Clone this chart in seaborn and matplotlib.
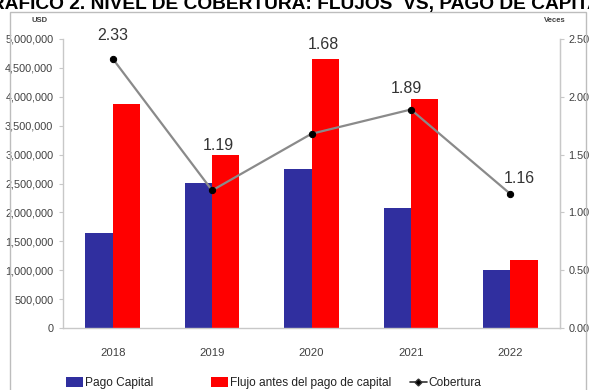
import numpy as np
import pandas as pd
import matplotlib
matplotlib.use("Agg")
import matplotlib.pyplot as plt
from matplotlib.patches import Patch, Rectangle
from matplotlib.lines import Line2D
from matplotlib.ticker import FuncFormatter
import seaborn as sns

# --- data -----------------------------------------------------------------
years = ["2018", "2019", "2020", "2021", "2022"]
pago_capital = [1640000, 2510000, 2750000, 2080000, 1000000]
flujo_antes = [3875000, 3000000, 4650000, 3960000, 1180000]
cobertura = [2.33, 1.19, 1.68, 1.89, 1.16]
series_names = ["Pago Capital", "Flujo antes del pago de capital"]
line_name = "Cobertura"
title = "GRÁFICO 2. NIVEL DE COBERTURA: FLUJOS  VS, PAGO DE CAPITAL"

# --- styling ----------------------------------------------------------------
sns.set_style("white")
FONT = ["Liberation Sans", "DejaVu Sans"]
plt.rcParams["font.family"] = FONT
BLUE = "#302F9F"
RED = "#FF0000"
GREY_LINE = "#8A8A8A"
AXIS_GREY = "#C8C8C8"
TEXT_GREY = "#404040"

W, H = 589, 390
fig = plt.figure(figsize=(W / 100, H / 100), dpi=100)

def fx(px):
    return px / W

def fy(py):
    return 1 - py / H

# outer chart frame
fig.patches.append(Rectangle((fx(10), fy(395)), fx(586) - fx(10), fy(12) - fy(395),
                             transform=fig.transFigure, fill=False,
                             edgecolor="#BDBDBD", linewidth=1.0, zorder=0))

# title, running past both edges of the frame
fig.text(0.5, fy(8.5), title, ha="center", va="baseline", fontsize=13.8,
         fontweight="bold", color="black")

ax = fig.add_axes([fx(63), fy(328), fx(560) - fx(63), fy(39) - fy(328)])

df = pd.DataFrame({
    "Año": years * 2,
    "Monto": pago_capital + flujo_antes,
    "Serie": [series_names[0]] * len(years) + [series_names[1]] * len(years),
})
sns.barplot(data=df, x="Año", y="Monto", hue="Serie", order=years,
            hue_order=series_names, palette=[BLUE, RED], width=0.55, gap=0,
            saturation=1, legend=False, ax=ax, edgecolor="none")

ax.set_ylim(0, 5000000)
ax.set_yticks(np.arange(0, 5000001, 500000))
ax.yaxis.set_major_formatter(FuncFormatter(lambda v, p: f"{int(v):,}"))
ax.set_xlim(-0.5, len(years) - 0.5)
ax.set_xlabel("")
ax.set_ylabel("")
ax.spines["top"].set_visible(False)
for s in ["left", "right", "bottom"]:
    ax.spines[s].set_color(AXIS_GREY)
    ax.spines[s].set_linewidth(1.0)
ax.tick_params(axis="y", which="both", left=True, length=3, color=AXIS_GREY,
               labelsize=7.8, labelcolor=TEXT_GREY, pad=4)
ax.tick_params(axis="x", bottom=False, labelsize=8.2, labelcolor=TEXT_GREY, pad=11)

# coverage line on the secondary axis
ax2 = ax.twinx()
xpos = np.arange(len(years))
sns.lineplot(x=xpos, y=cobertura, ax=ax2, color=GREY_LINE, linewidth=1.6,
             marker="o", markersize=4.5, markerfacecolor="black",
             markeredgecolor="black", zorder=5)
ax2.set_ylim(0, 2.5)
ax2.set_yticks(np.arange(0, 2.51, 0.5))
ax2.yaxis.set_major_formatter(FuncFormatter(lambda v, p: f"{v:.2f}"))
ax2.set_xlim(-0.5, len(years) - 0.5)
ax2.set_ylabel("")
for s in ["top", "left", "bottom"]:
    ax2.spines[s].set_visible(False)
ax2.spines["right"].set_color(AXIS_GREY)
ax2.tick_params(axis="y", right=True, length=3, color=AXIS_GREY,
                labelsize=7.8, labelcolor=TEXT_GREY, pad=3)

# value labels for the coverage points (offsets in points)
label_offsets = [(0, 16.5), (4.5, 32.5), (8.5, 64), (-3, 15), (6.5, 11)]
for x, v, (dx, dy) in zip(xpos, cobertura, label_offsets):
    ax2.annotate(f"{v:.2f}", (x, v), xytext=(dx, dy), textcoords="offset points",
                 ha="center", va="center", fontsize=11.5, color="#333333")

# axis unit captions
fig.text(fx(40), fy(21), "USD", ha="center", va="center", fontsize=5.5,
         fontweight="bold", color=TEXT_GREY)
fig.text(fx(555), fy(21), "Veces", ha="center", va="center", fontsize=5.5,
         fontweight="bold", color=TEXT_GREY)

# legend entries along the bottom, each anchored at its own spot
handles = [
    Patch(facecolor=BLUE, edgecolor="none", label=series_names[0]),
    Patch(facecolor=RED, edgecolor="none", label=series_names[1]),
    Line2D([0], [0], color="#333333", linewidth=1.2, marker="D", markersize=3.5,
           markerfacecolor="black", label=line_name),
]
entry_left_px = [66, 211, 410]
for h, xl in zip(handles, entry_left_px):
    fig.legend(handles=[h], loc="center left", bbox_to_anchor=(fx(xl), fy(383)),
               frameon=False, fontsize=8.6, handlelength=1.4, handleheight=0.85,
               handletextpad=0.15, borderpad=0, borderaxespad=0,
               labelcolor="#222222")

fig.savefig("out.png", dpi=100)
